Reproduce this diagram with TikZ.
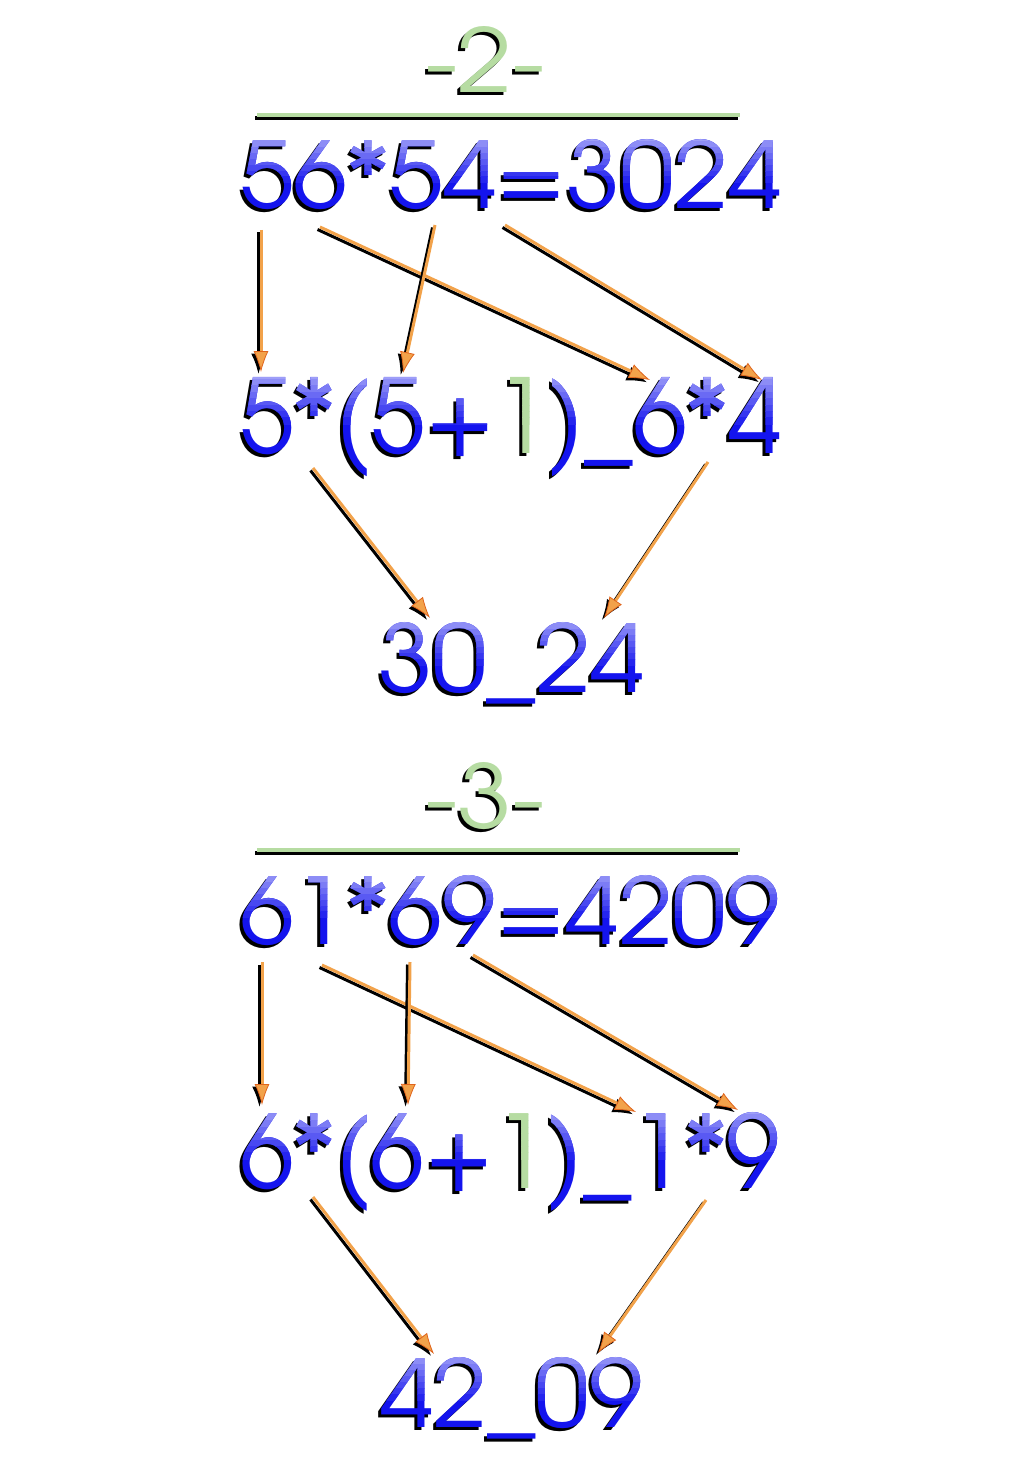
\documentclass[tikz,border=0pt]{standalone}
\usepackage{fontspec}
\usepackage{graphicx}
\newfontfamily\popfont{texgyreadventor-regular.otf}
\usetikzlibrary{arrows.meta}
\definecolor{dblue}{HTML}{1414EE}
\definecolor{lblue}{HTML}{A4A4F8}
\definecolor{gr}{HTML}{B6DCA2}
\definecolor{orng}{HTML}{F2A24A}
\definecolor{orngd}{HTML}{E0641C}
\colorlet{gcol}{gr}
\newcommand\gone{\textcolor{gcol}{1}}
% gradient text with shadow: name, x, baseline, width, height, content
\newcommand\gtext[6]{%
  \node[txt, text=black] (#1-s) at (#2-3,#3+3) {\colorlet{gcol}{black}\resizebox{#4pt}{#5pt}{#6}};
  \node[txt, text=dblue] (#1) at (#2,#3) {\resizebox{#4pt}{#5pt}{#6}};
  \foreach \k in {0,...,7}{%
    \pgfmathsetmacro\pct{int(4+\k*12)}%
    \begin{scope}
      \clip (0,{#3-#5-4+\k*(#5+4)*0.08}) rectangle (1022,{#3-#5-4+(\k+1)*(#5+4)*0.08});
      \node[txt, text=dblue!\pct!lblue] (#1-g\k) at (#2,#3) {\resizebox{#4pt}{#5pt}{#6}};
    \end{scope}
  }%
}
\newcommand\stext[6]{%
  \node[txt, text=black] (#1-s) at (#2-3,#3+3) {\resizebox{#4pt}{#5pt}{#6}};
  \node[txt, text=gr] (#1) at (#2,#3) {\resizebox{#4pt}{#5pt}{#6}};
}
\tikzset{
  txt/.style={inner sep=0pt, outer sep=0pt, anchor=base west, font=\popfont},
  arr/.style={draw=orng, line width=3pt, -{Latex[length=21pt,width=15pt,fill=orng,color=orngd,line width=0.8pt]}},
  arrsh/.style={draw=black, line width=3pt, -{Latex[length=21pt,width=15pt,fill=black]}},
}
\newcommand\conn[2]{%
  \draw[arrsh] ([shift={(-2.5,2.5)}]#1) -- ([shift={(-2.5,2.5)}]#2);
  \draw[arr] (#1) -- (#2);
}
\begin{document}
\begin{tikzpicture}[x=1pt, y=-1pt]
\useasboundingbox (0,0) rectangle (1022,1479);
\fill[white] (0,0) rectangle (1022,1479);

% ---------- block -2- ----------
\stext{t2}{425}{93}{120}{66}{-2-}
\draw[black, line width=4pt] (255,118) -- (738,118);
\draw[gr, line width=4pt] (257,115) -- (740,115);
\gtext{r1}{240}{209}{542}{69}{56*54=3024}
\gtext{r2}{240}{453}{542}{76}{5*(5+\gone)\_6*4}
\gtext{r3}{378}{692}{267}{70}{30\_24}

\coordinate (a1s) at (261,230);  \coordinate (a1e) at (261,372);
\coordinate (a2s) at (320,227);  \coordinate (a2e) at (650,380);
\coordinate (a3s) at (435,225);  \coordinate (a3e) at (403,373);
\coordinate (a4s) at (505,225);  \coordinate (a4e) at (762,380);
\coordinate (a5s) at (313,468);  \coordinate (a5e) at (430,618);
\coordinate (a6s) at (708,462);  \coordinate (a6e) at (604,618);
\conn{a1s}{a1e}
\conn{a2s}{a2e}
\conn{a3s}{a3e}
\conn{a4s}{a4e}
\conn{a5s}{a5e}
\conn{a6s}{a6e}

% ---------- block -3- ----------
\stext{t3}{425}{828}{120}{66}{-3-}
\draw[black, line width=4pt] (255,853) -- (738,853);
\draw[gr, line width=4pt] (257,850) -- (740,850);
\gtext{s1}{240}{944}{540}{69}{61*69=4209}
\gtext{s2}{240}{1188}{540}{76}{6*(6+\gone)\_1*9}
\gtext{s3}{380}{1427}{263}{70}{42\_09}

\coordinate (b1s) at (262,962);   \coordinate (b1e) at (262,1105);
\coordinate (b2s) at (322,965);   \coordinate (b2e) at (636,1112);
\coordinate (b3s) at (410,962);   \coordinate (b3e) at (408,1105);
\coordinate (b4s) at (473,955);   \coordinate (b4e) at (738,1110);
\coordinate (b5s) at (313,1197);  \coordinate (b5e) at (434,1354);
\coordinate (b6s) at (706,1200);  \coordinate (b6e) at (598,1353);
\conn{b1s}{b1e}
\conn{b2s}{b2e}
\conn{b3s}{b3e}
\conn{b4s}{b4e}
\conn{b5s}{b5e}
\conn{b6s}{b6e}
\end{tikzpicture}
\end{document}
